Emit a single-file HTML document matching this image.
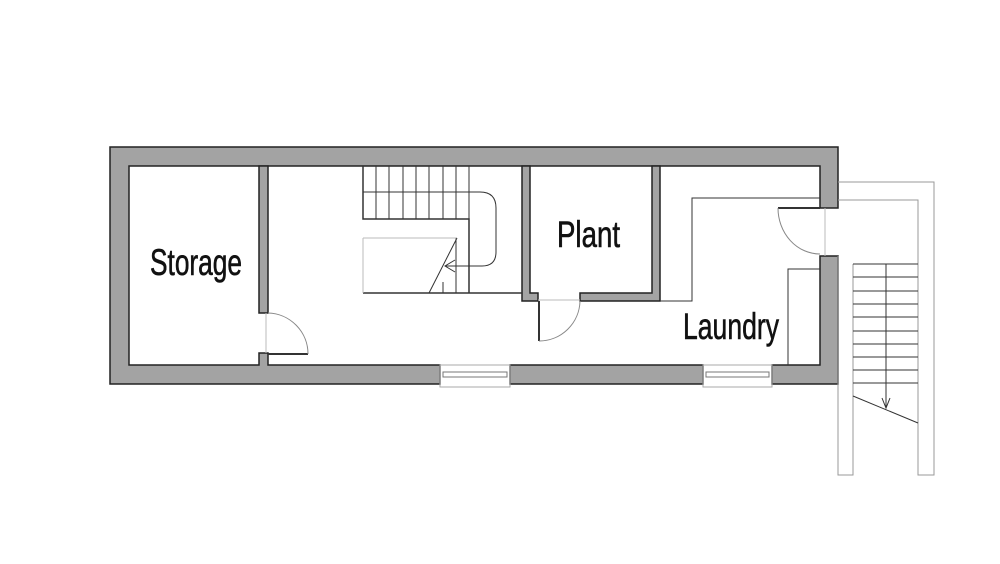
<!DOCTYPE html>
<html><head><meta charset="utf-8"><style>html,body{margin:0;padding:0;background:#fff}svg{display:block}</style></head><body>
<svg width="1000" height="564" viewBox="0 0 1000 564" xmlns="http://www.w3.org/2000/svg">
<g fill="#a3a3a3" stroke="#222" stroke-width="1.5">
<path d="M110,147 H838 V208 H820 V166 H129 V365 H259 V353 H268 V365 H440 V384 H110 Z"/>
<rect x="510" y="365" width="193" height="19"/>
<path d="M772,365 H820 V256 H838 V384 H772 Z"/>
<rect x="259" y="166" width="9" height="147"/>
<path d="M522,166 H530 V293 H538 V301 H522 Z"/>
<path d="M652,166 H660 V301 H580 V293 H652 Z"/>
</g>
<g fill="none" stroke="#333" stroke-width="1">
<rect x="440" y="365" width="70" height="22" stroke="#aaa"/>
<rect x="443" y="372" width="64" height="5" stroke="#777"/>
<rect x="703" y="365" width="69" height="22" stroke="#aaa"/>
<rect x="706" y="372" width="63" height="5" stroke="#777"/>
<path d="M268,354 H308" stroke-width="2"/>
<path d="M268,313 A41,41 0 0 1 308,354" stroke="#888"/>
<line x1="266" y1="313" x2="266" y2="353" stroke="#bbb"/>
<path d="M539,301 V341" stroke-width="2"/>
<path d="M539,341 A41,41 0 0 0 580,301" stroke="#888"/>
<line x1="538" y1="300" x2="580" y2="300" stroke="#bbb"/>
<path d="M660,301 H692 V198 H820"/>
<path d="M788,365 V269 H820"/>
<path d="M778,208 H820" stroke-width="2"/>
<path d="M778,208 A42,46 0 0 0 820,254" stroke="#888"/>
<line x1="825" y1="208" x2="825" y2="256" stroke="#bbb"/>
<path d="M363,166 V219 H469 V293 M363,293 H522" stroke-width="1.5"/>
<path d="M363,192 H480 Q496,192 496,208 V252 Q496,266 482,266 H445"/>
<path d="M376,166V219 M389,166V219 M403,166V219 M416,166V219 M429,166V219 M443,166V219 M456,166V219 M469,166V219"/>
<path d="M456,238 V293 M443,282 V293"/>
<path d="M363,238 H457 M363,238 V293" stroke="#bbb"/>
<path d="M457,238 L429,293"/>
<path d="M455,260 L445,266 L455,272"/>
<g stroke="#999">
<path d="M838,182 H934 V475 H918 V200 H838"/>
<path d="M838,256 V475 H853 V264"/>
</g>
<path d="M853,264 H918 M853,277H918 M853,291H918 M853,304H918 M853,317H918 M853,331H918 M853,344H918 M853,357H918 M853,370H918 M853,383H918 M853,396 L918,423"/>
<path d="M886,264 V407 M882,398 L886,408 L890,398"/>
</g>
<g font-family="'Liberation Sans Narrow','Liberation Sans',sans-serif" font-size="37" fill="#111" stroke="#111" stroke-width="0.6">
<text x="150" y="275" textLength="92" lengthAdjust="spacingAndGlyphs">Storage</text>
<text x="557" y="247" textLength="63" lengthAdjust="spacingAndGlyphs">Plant</text>
<text x="683" y="339" textLength="96" lengthAdjust="spacingAndGlyphs">Laundry</text>
</g>
</svg>
</body></html>
